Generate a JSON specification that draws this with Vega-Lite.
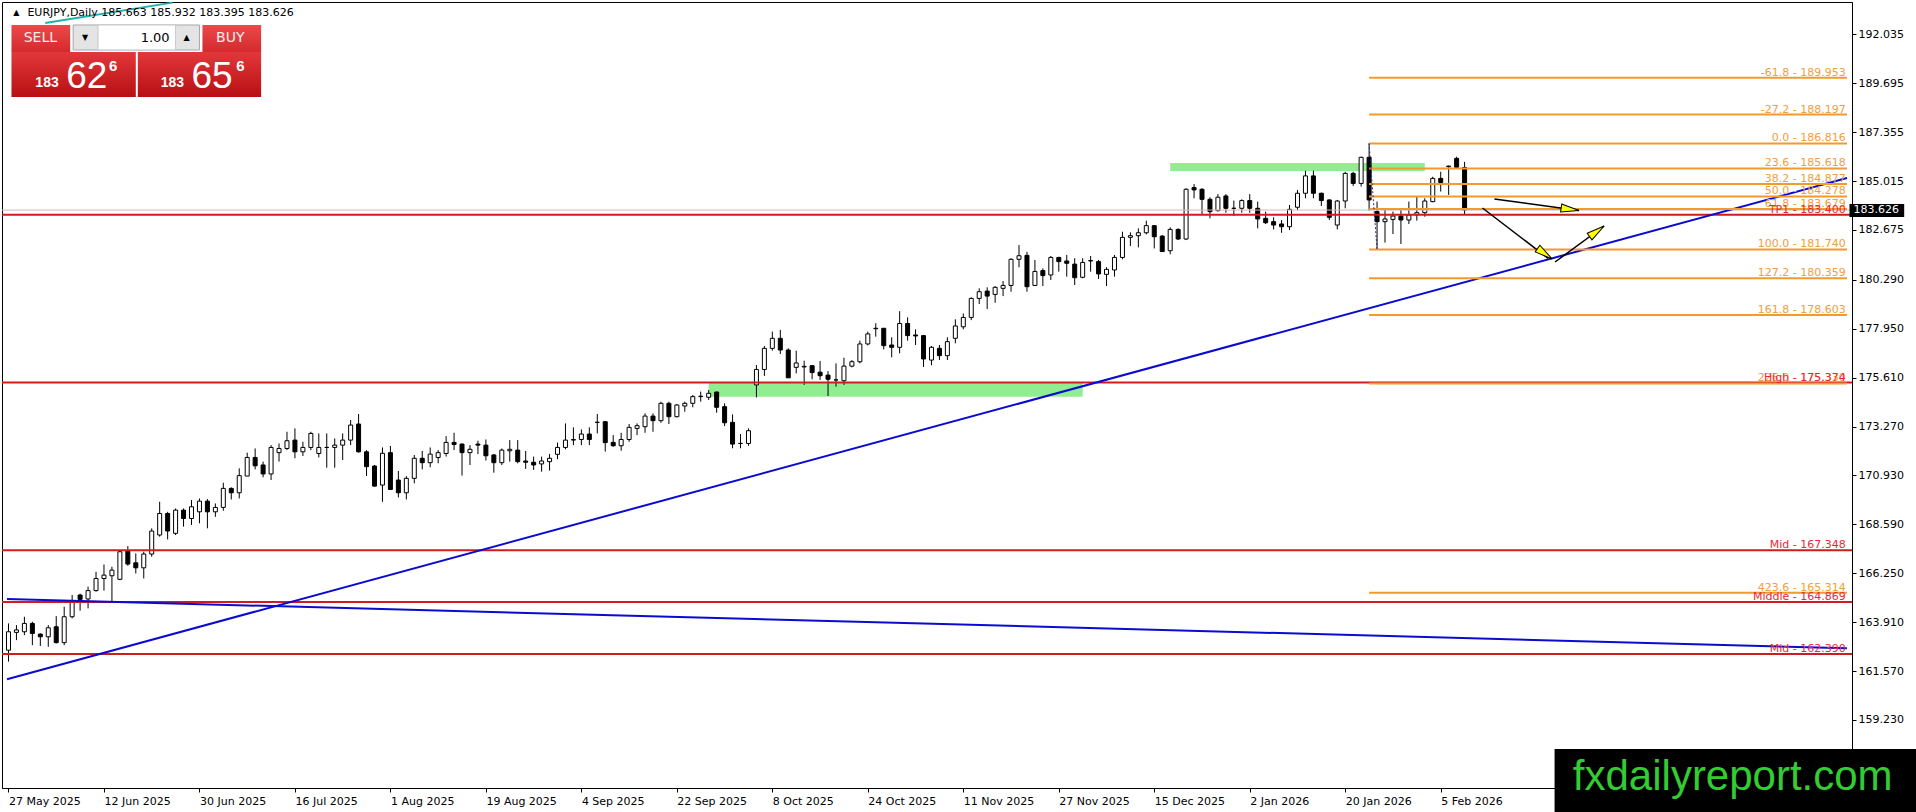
{
"$schema":"https://vega.github.io/schema/vega-lite/v6.json",
"width":1850,"height":786,"autosize":"none",
"padding":{"left":2,"top":2,"right":64,"bottom":24},
"background":"#ffffff",
"config":{"view":{"stroke":"#000000","strokeWidth":1},"axis":{"grid":false,"domainColor":"#000000","tickColor":"#000000","labelColor":"#000000","labelFont":"DejaVu Sans","labelFontSize":11}},
"datasets":{
"candles":[
{"i":0,"o":162.57,"h":163.85,"l":162.02,"c":163.45},
{"i":1,"o":163.42,"h":163.77,"l":163.05,"c":163.54},
{"i":2,"o":163.45,"h":164.17,"l":163.29,"c":163.85},
{"i":3,"o":163.85,"h":163.93,"l":162.81,"c":163.37},
{"i":4,"o":163.34,"h":163.37,"l":162.77,"c":163.21},
{"i":5,"o":163.21,"h":163.77,"l":162.73,"c":163.64},
{"i":6,"o":163.69,"h":164.2,"l":162.89,"c":162.93},
{"i":7,"o":162.93,"h":164.65,"l":162.81,"c":164.17},
{"i":8,"o":164.17,"h":165.21,"l":164.09,"c":164.92},
{"i":9,"o":165.21,"h":165.27,"l":164.46,"c":165.0},
{"i":10,"o":165.02,"h":165.61,"l":164.57,"c":165.42},
{"i":11,"o":165.42,"h":166.32,"l":165.37,"c":166.0},
{"i":12,"o":166.0,"h":166.67,"l":165.42,"c":166.16},
{"i":13,"o":166.13,"h":166.56,"l":164.89,"c":166.4},
{"i":14,"o":165.96,"h":167.36,"l":165.92,"c":167.28},
{"i":15,"o":167.31,"h":167.55,"l":166.61,"c":166.69},
{"i":16,"o":166.75,"h":167.2,"l":166.24,"c":166.51},
{"i":17,"o":166.51,"h":167.28,"l":166.0,"c":167.17},
{"i":18,"o":167.17,"h":168.4,"l":167.04,"c":168.27},
{"i":19,"o":168.08,"h":169.67,"l":168.0,"c":169.11},
{"i":20,"o":169.11,"h":169.19,"l":167.87,"c":168.27},
{"i":21,"o":168.16,"h":169.35,"l":168.08,"c":169.27},
{"i":22,"o":169.27,"h":169.35,"l":168.48,"c":168.87},
{"i":23,"o":168.87,"h":169.75,"l":168.56,"c":169.43},
{"i":24,"o":169.19,"h":169.83,"l":168.64,"c":169.7},
{"i":25,"o":169.7,"h":169.8,"l":168.4,"c":169.19},
{"i":26,"o":169.19,"h":169.59,"l":168.95,"c":169.4},
{"i":27,"o":169.4,"h":170.58,"l":169.24,"c":170.31},
{"i":28,"o":170.31,"h":170.36,"l":169.78,"c":170.1},
{"i":29,"o":170.1,"h":171.27,"l":169.83,"c":170.92},
{"i":30,"o":170.9,"h":172.02,"l":170.9,"c":171.79},
{"i":31,"o":171.79,"h":172.22,"l":171.22,"c":171.39},
{"i":32,"o":171.43,"h":171.59,"l":170.84,"c":171.0},
{"i":33,"o":171.0,"h":172.38,"l":170.71,"c":172.27},
{"i":34,"o":172.02,"h":172.46,"l":171.59,"c":172.22},
{"i":35,"o":172.22,"h":173.02,"l":172.14,"c":172.59},
{"i":36,"o":172.62,"h":173.18,"l":171.75,"c":172.06},
{"i":37,"o":172.06,"h":172.54,"l":171.86,"c":172.27},
{"i":38,"o":172.27,"h":173.02,"l":172.14,"c":172.94},
{"i":39,"o":171.98,"h":172.94,"l":171.79,"c":172.27},
{"i":40,"o":172.27,"h":172.94,"l":171.3,"c":172.27},
{"i":41,"o":172.27,"h":172.7,"l":171.3,"c":172.38},
{"i":42,"o":172.38,"h":172.94,"l":171.67,"c":172.62},
{"i":43,"o":172.62,"h":173.58,"l":172.38,"c":173.34},
{"i":44,"o":173.39,"h":173.87,"l":172.02,"c":172.06},
{"i":45,"o":172.06,"h":172.14,"l":170.9,"c":171.35},
{"i":46,"o":171.38,"h":171.43,"l":170.39,"c":170.42},
{"i":47,"o":170.47,"h":172.27,"l":169.67,"c":171.99},
{"i":48,"o":172.02,"h":172.34,"l":170.23,"c":170.26},
{"i":49,"o":170.71,"h":171.14,"l":169.88,"c":170.1},
{"i":50,"o":170.1,"h":170.9,"l":169.78,"c":170.79},
{"i":51,"o":170.79,"h":171.91,"l":170.55,"c":171.75},
{"i":52,"o":171.75,"h":172.1,"l":171.22,"c":171.54},
{"i":53,"o":171.54,"h":172.27,"l":171.32,"c":171.95},
{"i":54,"o":171.79,"h":172.14,"l":171.51,"c":172.02},
{"i":55,"o":171.98,"h":172.81,"l":171.83,"c":172.51},
{"i":56,"o":172.51,"h":172.97,"l":172.14,"c":172.41},
{"i":57,"o":172.43,"h":172.46,"l":170.92,"c":172.02},
{"i":58,"o":172.02,"h":172.38,"l":171.43,"c":172.18},
{"i":59,"o":172.43,"h":172.59,"l":171.95,"c":172.38},
{"i":60,"o":172.38,"h":172.65,"l":171.64,"c":171.87},
{"i":61,"o":171.91,"h":171.95,"l":171.06,"c":171.54},
{"i":62,"o":171.54,"h":172.22,"l":171.43,"c":172.14},
{"i":63,"o":172.11,"h":172.62,"l":171.59,"c":172.18},
{"i":64,"o":172.14,"h":172.62,"l":171.51,"c":171.59},
{"i":65,"o":171.62,"h":172.1,"l":171.24,"c":171.56},
{"i":66,"o":171.56,"h":171.83,"l":171.19,"c":171.43},
{"i":67,"o":171.48,"h":171.83,"l":171.11,"c":171.62},
{"i":68,"o":171.59,"h":171.95,"l":171.16,"c":171.75},
{"i":69,"o":171.94,"h":172.5,"l":171.71,"c":172.27},
{"i":70,"o":172.27,"h":173.42,"l":172.18,"c":172.62},
{"i":71,"o":172.62,"h":173.23,"l":172.38,"c":172.65},
{"i":72,"o":172.65,"h":173.13,"l":172.38,"c":172.91},
{"i":73,"o":172.91,"h":173.23,"l":172.38,"c":172.65},
{"i":74,"o":173.47,"h":173.87,"l":172.94,"c":173.47},
{"i":75,"o":173.5,"h":173.53,"l":172.07,"c":172.5},
{"i":76,"o":172.51,"h":172.86,"l":172.3,"c":172.35},
{"i":77,"o":172.35,"h":172.97,"l":172.11,"c":172.65},
{"i":78,"o":172.65,"h":173.39,"l":172.54,"c":173.23},
{"i":79,"o":173.18,"h":173.42,"l":172.86,"c":173.31},
{"i":80,"o":173.26,"h":173.9,"l":172.97,"c":173.77},
{"i":81,"o":173.77,"h":173.9,"l":173.02,"c":173.55},
{"i":82,"o":173.55,"h":174.46,"l":173.45,"c":174.38},
{"i":83,"o":174.38,"h":174.46,"l":173.39,"c":173.74},
{"i":84,"o":173.74,"h":174.35,"l":173.71,"c":174.3},
{"i":85,"o":174.25,"h":174.46,"l":173.98,"c":174.38},
{"i":86,"o":174.38,"h":174.78,"l":174.19,"c":174.7},
{"i":87,"o":174.7,"h":174.94,"l":174.46,"c":174.72},
{"i":88,"o":174.67,"h":175.02,"l":174.54,"c":174.86},
{"i":89,"o":174.92,"h":174.94,"l":173.93,"c":174.19},
{"i":90,"o":174.22,"h":174.38,"l":173.29,"c":173.45},
{"i":91,"o":173.47,"h":173.85,"l":172.23,"c":172.43},
{"i":92,"o":172.46,"h":172.91,"l":172.23,"c":172.46},
{"i":93,"o":172.46,"h":173.18,"l":172.35,"c":173.07},
{"i":94,"o":175.26,"h":176.21,"l":174.66,"c":176.0},
{"i":95,"o":176.0,"h":177.12,"l":175.69,"c":177.01},
{"i":96,"o":177.01,"h":177.81,"l":176.9,"c":177.49},
{"i":97,"o":177.49,"h":177.89,"l":176.74,"c":176.93},
{"i":98,"o":176.93,"h":177.01,"l":175.6,"c":175.6},
{"i":99,"o":176.1,"h":176.9,"l":175.81,"c":176.31},
{"i":100,"o":176.12,"h":176.42,"l":175.26,"c":176.15},
{"i":101,"o":176.18,"h":176.21,"l":175.53,"c":175.85},
{"i":102,"o":175.87,"h":176.4,"l":175.5,"c":175.7},
{"i":103,"o":175.73,"h":175.92,"l":174.73,"c":175.53},
{"i":104,"o":175.5,"h":176.29,"l":175.18,"c":175.5},
{"i":105,"o":175.46,"h":176.56,"l":175.26,"c":176.16},
{"i":106,"o":176.16,"h":176.45,"l":176.1,"c":176.37},
{"i":107,"o":176.37,"h":177.38,"l":176.29,"c":177.22},
{"i":108,"o":177.22,"h":177.81,"l":177.15,"c":177.7},
{"i":109,"o":177.95,"h":178.21,"l":177.57,"c":177.97},
{"i":110,"o":177.97,"h":177.97,"l":176.96,"c":177.14},
{"i":111,"o":177.17,"h":177.54,"l":176.58,"c":177.06},
{"i":112,"o":177.06,"h":178.79,"l":176.77,"c":178.2},
{"i":113,"o":178.2,"h":178.49,"l":177.38,"c":177.62},
{"i":114,"o":177.65,"h":177.92,"l":177.17,"c":177.6},
{"i":115,"o":177.62,"h":177.65,"l":176.12,"c":176.5},
{"i":116,"o":176.45,"h":177.12,"l":176.2,"c":177.06},
{"i":117,"o":177.01,"h":177.17,"l":176.45,"c":176.66},
{"i":118,"o":176.66,"h":177.54,"l":176.45,"c":177.33},
{"i":119,"o":177.49,"h":178.4,"l":177.25,"c":178.08},
{"i":120,"o":178.04,"h":178.68,"l":177.92,"c":178.49},
{"i":121,"o":178.49,"h":179.45,"l":178.36,"c":179.4},
{"i":122,"o":179.4,"h":179.88,"l":179.13,"c":179.72},
{"i":123,"o":179.75,"h":179.93,"l":178.89,"c":179.51},
{"i":124,"o":179.59,"h":179.99,"l":179.19,"c":179.93},
{"i":125,"o":179.88,"h":180.23,"l":179.51,"c":180.02},
{"i":126,"o":180.02,"h":181.32,"l":179.72,"c":181.27},
{"i":127,"o":181.27,"h":181.95,"l":180.89,"c":181.44},
{"i":128,"o":181.46,"h":181.63,"l":179.72,"c":179.96},
{"i":129,"o":180.02,"h":181.24,"l":179.99,"c":180.69},
{"i":130,"o":180.73,"h":180.84,"l":179.99,"c":180.49},
{"i":131,"o":180.52,"h":181.43,"l":180.28,"c":181.36},
{"i":132,"o":181.36,"h":181.39,"l":180.68,"c":181.16},
{"i":133,"o":181.19,"h":181.48,"l":180.44,"c":181.08},
{"i":134,"o":181.04,"h":181.32,"l":180.04,"c":180.39},
{"i":135,"o":180.41,"h":181.32,"l":180.36,"c":181.12},
{"i":136,"o":181.19,"h":181.43,"l":180.68,"c":181.21},
{"i":137,"o":181.16,"h":181.24,"l":180.33,"c":180.57},
{"i":138,"o":180.55,"h":180.89,"l":179.99,"c":180.79},
{"i":139,"o":180.76,"h":181.48,"l":180.44,"c":181.36},
{"i":140,"o":181.36,"h":182.59,"l":181.27,"c":182.32},
{"i":141,"o":182.32,"h":182.56,"l":181.91,"c":182.4},
{"i":142,"o":182.4,"h":182.75,"l":181.84,"c":182.54},
{"i":143,"o":182.54,"h":183.12,"l":182.46,"c":182.88},
{"i":144,"o":182.88,"h":182.91,"l":181.79,"c":182.35},
{"i":145,"o":182.38,"h":182.43,"l":181.64,"c":181.64},
{"i":146,"o":181.68,"h":182.8,"l":181.51,"c":182.7},
{"i":147,"o":182.7,"h":182.75,"l":182.19,"c":182.24},
{"i":148,"o":182.24,"h":184.67,"l":182.19,"c":184.62},
{"i":149,"o":184.7,"h":184.87,"l":184.19,"c":184.59},
{"i":150,"o":184.62,"h":184.67,"l":183.44,"c":184.14},
{"i":151,"o":184.14,"h":184.24,"l":183.23,"c":183.55},
{"i":152,"o":183.6,"h":184.39,"l":183.55,"c":184.24},
{"i":153,"o":184.3,"h":184.39,"l":183.5,"c":183.71},
{"i":154,"o":183.71,"h":184.08,"l":183.34,"c":183.71},
{"i":155,"o":183.71,"h":184.14,"l":183.5,"c":184.08},
{"i":156,"o":184.08,"h":184.39,"l":183.5,"c":183.71},
{"i":157,"o":183.71,"h":184.03,"l":182.75,"c":183.2},
{"i":158,"o":183.23,"h":183.55,"l":182.96,"c":183.02},
{"i":159,"o":183.07,"h":183.28,"l":182.7,"c":182.91},
{"i":160,"o":182.96,"h":183.15,"l":182.54,"c":182.83},
{"i":161,"o":182.83,"h":183.87,"l":182.67,"c":183.66},
{"i":162,"o":183.76,"h":184.59,"l":183.63,"c":184.43},
{"i":163,"o":184.43,"h":185.51,"l":184.19,"c":185.26},
{"i":164,"o":185.26,"h":185.51,"l":184.19,"c":184.43},
{"i":165,"o":184.43,"h":184.46,"l":183.82,"c":184.08},
{"i":166,"o":184.11,"h":184.14,"l":183.15,"c":183.28},
{"i":167,"o":182.91,"h":184.11,"l":182.7,"c":184.06},
{"i":168,"o":184.06,"h":185.46,"l":183.71,"c":185.38},
{"i":169,"o":185.38,"h":185.46,"l":184.78,"c":184.9},
{"i":170,"o":184.9,"h":186.18,"l":184.75,"c":186.15},
{"i":171,"o":186.15,"h":186.816,"l":183.6,"c":184.11},
{"i":172,"o":183.55,"h":184.03,"l":181.74,"c":183.07},
{"i":173,"o":183.07,"h":183.63,"l":182.07,"c":183.2},
{"i":174,"o":183.18,"h":183.55,"l":182.48,"c":183.34},
{"i":175,"o":183.34,"h":183.63,"l":182.0,"c":183.15},
{"i":176,"o":183.15,"h":184.03,"l":182.96,"c":183.39},
{"i":177,"o":183.4,"h":184.27,"l":183.12,"c":183.5},
{"i":178,"o":183.5,"h":184.19,"l":183.31,"c":184.06},
{"i":179,"o":184.03,"h":185.22,"l":184.0,"c":185.14},
{"i":180,"o":185.14,"h":185.46,"l":184.51,"c":184.94},
{"i":181,"o":185.7,"h":185.75,"l":184.35,"c":185.73},
{"i":182,"o":186.1,"h":186.18,"l":185.62,"c":185.67},
{"i":183,"o":185.663,"h":185.932,"l":183.395,"c":183.626}
],
"zones":[{"i1":88,"i2":135,"p1":175.374,"p2":174.69},{"i1":146,"i2":178,"p1":185.88,"p2":185.5}],
"red":[{"p":183.4,"t":"TP1 - 183.400"},{"p":175.374,"t":"High - 175.374"},{"p":167.348,"t":"Mid - 167.348"},{"p":164.869,"t":"Middle - 164.869"},{"p":162.39,"t":"Mid - 162.390"}],
"fib":[{"p":189.953,"t":"-61.8 - 189.953"},{"p":188.197,"t":"-27.2 - 188.197"},{"p":186.816,"t":"0.0 - 186.816"},{"p":185.618,"t":"23.6 - 185.618"},{"p":184.877,"t":"38.2 - 184.877"},{"p":184.278,"t":"50.0 - 184.278"},{"p":183.679,"t":"61.8 - 183.679"},{"p":181.74,"t":"100.0 - 181.740"},{"p":180.359,"t":"127.2 - 180.359"},{"p":178.603,"t":"161.8 - 178.603"},{"p":175.33,"t":"226.0 - 175.330"},{"p":165.314,"t":"423.6 - 165.314"}],
"trend":[{"g":"up","i":-0.1875,"p":161.18},{"g":"up","i":231.0625,"p":185.16},{"g":"down","i":-0.1875,"p":165.02},{"g":"down","i":231.0625,"p":162.66}],
"arrows":[{"g":1,"i":186.75,"p":184.155},{"g":1,"i":197.375,"p":183.605},{"g":2,"i":185.25,"p":183.725},{"g":2,"i":193.5,"p":181.318},{"g":3,"i":194.375,"p":181.141},{"g":3,"i":200.54,"p":182.864}]
},
"layer":[
{"data":{"name":"zones"},"mark":{"type":"rect","color":"#90ee90"},
 "encoding":{
  "x":{"field":"i1","type":"quantitative","scale":{"domain":[-0.1875,231.0625],"nice":false,"zero":false},
   "axis":{"title":null,"orient":"bottom","values":[0,12,24,36,48,60,72,84,96,108,120,132,144,156,168,180],
    "labelExpr":"['27 May 2025','12 Jun 2025','30 Jun 2025','16 Jul 2025','1 Aug 2025','19 Aug 2025','4 Sep 2025','22 Sep 2025','8 Oct 2025','24 Oct 2025','11 Nov 2025','27 Nov 2025','15 Dec 2025','2 Jan 2026','20 Jan 2026','5 Feb 2026'][round(datum.value/12)]",
    "labelAlign":"left","labelDx":1,"labelBaseline":"top","labelPadding":3,"tickSize":4,"labelFlush":false,"labelOverlap":false}},
  "x2":{"field":"i2"},
  "y":{"field":"p1","type":"quantitative","scale":{"domain":[155.976,193.58],"nice":false,"zero":false},
   "axis":{"title":null,"orient":"right","values":[159.23,161.57,163.91,166.25,168.59,170.93,173.27,175.61,177.95,180.29,182.675,185.015,187.355,189.695,192.035],"format":".3f","tickSize":4,"labelPadding":2,"labelFlush":false,"labelOverlap":false}},
  "y2":{"field":"p2"}}},
{"data":{"name":"candles"},"mark":{"type":"rule","color":"#000000","strokeWidth":1},
 "encoding":{"x":{"field":"i","type":"quantitative"},"y":{"field":"l","type":"quantitative"},"y2":{"field":"h"}}},
{"data":{"name":"candles"},"mark":{"type":"bar","size":4,"stroke":"#000000","strokeWidth":1},
 "encoding":{"x":{"field":"i","type":"quantitative"},"y":{"field":"o","type":"quantitative"},"y2":{"field":"c"},
  "fill":{"condition":{"test":"datum.c >= datum.o","value":"#ffffff"},"value":"#000000"}}},
{"data":{"values":[{"p":183.626}]},"mark":{"type":"rule","color":"#c0c0c0","strokeWidth":1},
 "encoding":{"y":{"field":"p","type":"quantitative"}}},
{"data":{"name":"red"},"mark":{"type":"rule","color":"#d01c1c","strokeWidth":2},
 "encoding":{"y":{"field":"p","type":"quantitative"}}},
{"data":{"name":"trend"},"mark":{"type":"line","color":"#0a0ad0","strokeWidth":2},
 "encoding":{"x":{"field":"i","type":"quantitative"},"y":{"field":"p","type":"quantitative"},"detail":{"field":"g"}}},
{"data":{"values":[{"i":4.625,"p":192.58},{"i":20.6,"p":193.55}]},"mark":{"type":"line","color":"#20b2aa","strokeWidth":2},
 "encoding":{"x":{"field":"i","type":"quantitative"},"y":{"field":"p","type":"quantitative"}}},
{"data":{"name":"fib"},"mark":{"type":"rule","color":"#f39a2c","strokeWidth":2},
 "encoding":{"x":{"datum":171},"x2":{"datum":231.0625},"y":{"field":"p","type":"quantitative"}}},
{"data":{"values":[{"i":171,"p":186.816},{"i":172,"p":181.74}]},"mark":{"type":"line","color":"#2828a8","strokeWidth":1,"strokeDash":[2,2]},
 "encoding":{"x":{"field":"i","type":"quantitative"},"y":{"field":"p","type":"quantitative"}}},
{"data":{"name":"arrows"},"mark":{"type":"line","color":"#000000","strokeWidth":1.5},
 "encoding":{"x":{"field":"i","type":"quantitative"},"y":{"field":"p","type":"quantitative"},"detail":{"field":"g"}}},
{"data":{"values":[{"i":196.26,"p":183.665}]},"mark":{"type":"point","shape":"M-1,-0.45L1,0L-1,0.45Z","size":324,"angle":8,"filled":true,"fill":"#ffff00","stroke":"#000000","strokeWidth":1,"opacity":1},
 "encoding":{"x":{"field":"i","type":"quantitative"},"y":{"field":"p","type":"quantitative"}}},
{"data":{"values":[{"i":193.09,"p":181.534}]},"mark":{"type":"point","shape":"M-1,-0.45L1,0L-1,0.45Z","size":324,"angle":35.5,"filled":true,"fill":"#ffff00","stroke":"#000000","strokeWidth":1,"opacity":1},
 "encoding":{"x":{"field":"i","type":"quantitative"},"y":{"field":"p","type":"quantitative"}}},
{"data":{"values":[{"i":199.625,"p":182.61}]},"mark":{"type":"point","shape":"M-1,-0.45L1,0L-1,0.45Z","size":324,"angle":-36,"filled":true,"fill":"#ffff00","stroke":"#000000","strokeWidth":1,"opacity":1},
 "encoding":{"x":{"field":"i","type":"quantitative"},"y":{"field":"p","type":"quantitative"}}},
{"data":{"name":"fib"},"mark":{"type":"text","color":"#f0a040","font":"DejaVu Sans","fontSize":11,"align":"right","baseline":"alphabetic","dy":-2},
 "encoding":{"x":{"datum":230.9},"y":{"field":"p","type":"quantitative"},"text":{"field":"t"}}},
{"data":{"name":"red"},"mark":{"type":"text","color":"#e8283a","font":"DejaVu Sans","fontSize":11,"align":"right","baseline":"alphabetic","dy":-2},
 "encoding":{"x":{"datum":230.9},"y":{"field":"p","type":"quantitative"},"text":{"field":"t"}}},
{"data":{"values":[{"i1":231.375,"i2":238.25,"p1":183.916,"p2":183.294}]},"mark":{"type":"rect","color":"#000000"},
 "encoding":{"x":{"field":"i1","type":"quantitative"},"x2":{"field":"i2"},"y":{"field":"p1","type":"quantitative"},"y2":{"field":"p2"}}},
{"data":{"values":[{"i":231.875,"p":183.626,"t":"183.626"}]},"mark":{"type":"text","color":"#ffffff","font":"DejaVu Sans","fontSize":11,"align":"left","baseline":"middle"},
 "encoding":{"x":{"field":"i","type":"quantitative"},"y":{"field":"p","type":"quantitative"},"text":{"field":"t"}}},
{"data":{"values":[{"i":1.0,"p":193.054,"t":"▲"}]},"mark":{"type":"text","color":"#000000","font":"DejaVu Sans","fontSize":8,"align":"center","baseline":"middle"},
 "encoding":{"x":{"field":"i","type":"quantitative"},"y":{"field":"p","type":"quantitative"},"text":{"field":"t"}}},
{"data":{"values":[{"i":2.375,"p":193.054,"t":"EURJPY,Daily  185.663 185.932 183.395 183.626"}]},"mark":{"type":"text","color":"#000000","font":"DejaVu Sans","fontSize":11,"align":"left","baseline":"middle"},
 "encoding":{"x":{"field":"i","type":"quantitative"},"y":{"field":"p","type":"quantitative"},"text":{"field":"t"}}},
{"data":{"values":[{"i1":0.375,"i2":16,"p1":191.188,"p2":189.035},{"i1":16.25,"i2":31.75,"p1":191.188,"p2":189.035}]},
 "mark":{"type":"rect","fill":{"gradient":"linear","x1":0,"y1":0,"x2":0,"y2":1,"stops":[{"offset":0,"color":"#e2383a"},{"offset":1,"color":"#b80f14"}]}},
 "encoding":{"x":{"field":"i1","type":"quantitative"},"x2":{"field":"i2"},"y":{"field":"p1","type":"quantitative"},"y2":{"field":"p2"}}},
{"data":{"values":[{"i1":0.375,"i2":7.75,"p1":192.48,"p2":191.188},{"i1":24.375,"i2":31.75,"p1":192.48,"p2":191.188}]},
 "mark":{"type":"rect","fill":{"gradient":"linear","x1":0,"y1":0,"x2":0,"y2":1,"stops":[{"offset":0,"color":"#ea4a4c"},{"offset":1,"color":"#d42a2d"}]}},
 "encoding":{"x":{"field":"i1","type":"quantitative"},"x2":{"field":"i2"},"y":{"field":"p1","type":"quantitative"},"y2":{"field":"p2"}}},
{"data":{"values":[{"i1":8.125,"i2":24,"p1":192.48,"p2":191.284}]},"mark":{"type":"rect","fill":"#e4e4e4","stroke":"#a8a8a8","strokeWidth":1},
 "encoding":{"x":{"field":"i1","type":"quantitative"},"x2":{"field":"i2"},"y":{"field":"p1","type":"quantitative"},"y2":{"field":"p2"}}},
{"data":{"values":[{"i1":11.25,"i2":21,"p1":192.48,"p2":191.284}]},"mark":{"type":"rect","fill":"#ffffff","stroke":"#c8c8c8","strokeWidth":1},
 "encoding":{"x":{"field":"i1","type":"quantitative"},"x2":{"field":"i2"},"y":{"field":"p1","type":"quantitative"},"y2":{"field":"p2"}}},
{"data":{"values":[{"i":4.0,"p":191.858,"t":"SELL"},{"i":27.875,"p":191.858,"t":"BUY"}]},"mark":{"type":"text","color":"#ffecec","font":"DejaVu Sans","fontSize":14,"align":"center","baseline":"middle"},
 "encoding":{"x":{"field":"i","type":"quantitative"},"y":{"field":"p","type":"quantitative"},"text":{"field":"t"}}},
{"data":{"values":[{"i":20.25,"p":191.858,"t":"1.00"}]},"mark":{"type":"text","color":"#000000","font":"DejaVu Sans","fontSize":13,"align":"right","baseline":"middle"},
 "encoding":{"x":{"field":"i","type":"quantitative"},"y":{"field":"p","type":"quantitative"},"text":{"field":"t"}}},
{"data":{"values":[{"i":9.625,"p":191.88,"t":"▼"},{"i":22.375,"p":191.88,"t":"▲"}]},"mark":{"type":"text","color":"#000000","font":"DejaVu Sans","fontSize":8,"align":"center","baseline":"middle"},
 "encoding":{"x":{"field":"i","type":"quantitative"},"y":{"field":"p","type":"quantitative"},"text":{"field":"t"}}},
{"data":{"values":[{"i":3.375,"p":189.514,"t":"183"},{"i":19.125,"p":189.514,"t":"183"}]},"mark":{"type":"text","color":"#ffffff","font":"Liberation Sans","fontSize":14,"fontWeight":"bold","align":"left","baseline":"alphabetic"},
 "encoding":{"x":{"field":"i","type":"quantitative"},"y":{"field":"p","type":"quantitative"},"text":{"field":"t"}}},
{"data":{"values":[{"i":7.25,"p":189.466,"t":"62"},{"i":23.0,"p":189.466,"t":"65"}]},"mark":{"type":"text","color":"#ffffff","font":"Liberation Sans","fontSize":37,"align":"left","baseline":"alphabetic"},
 "encoding":{"x":{"field":"i","type":"quantitative"},"y":{"field":"p","type":"quantitative"},"text":{"field":"t"}}},
{"data":{"values":[{"i":12.625,"p":190.298,"t":"6"},{"i":28.625,"p":190.298,"t":"6"}]},"mark":{"type":"text","color":"#ffffff","font":"Liberation Sans","fontSize":15,"fontWeight":"bold","align":"left","baseline":"alphabetic"},
 "encoding":{"x":{"field":"i","type":"quantitative"},"y":{"field":"p","type":"quantitative"},"text":{"field":"t"}}},
{"data":{"values":[{"i1":194.31,"i2":240,"p1":157.84,"p2":154.5}]},"mark":{"type":"rect","color":"#000000"},
 "encoding":{"x":{"field":"i1","type":"quantitative"},"x2":{"field":"i2"},"y":{"field":"p1","type":"quantitative"},"y2":{"field":"p2"}}},
{"data":{"values":[{"i":216.7,"p":155.88,"t":"fxdailyreport.com"}]},"mark":{"type":"text","color":"#33cc33","font":"Liberation Sans","fontSize":42,"align":"center","baseline":"alphabetic"},
 "encoding":{"x":{"field":"i","type":"quantitative"},"y":{"field":"p","type":"quantitative"},"text":{"field":"t"}}}
]
}
